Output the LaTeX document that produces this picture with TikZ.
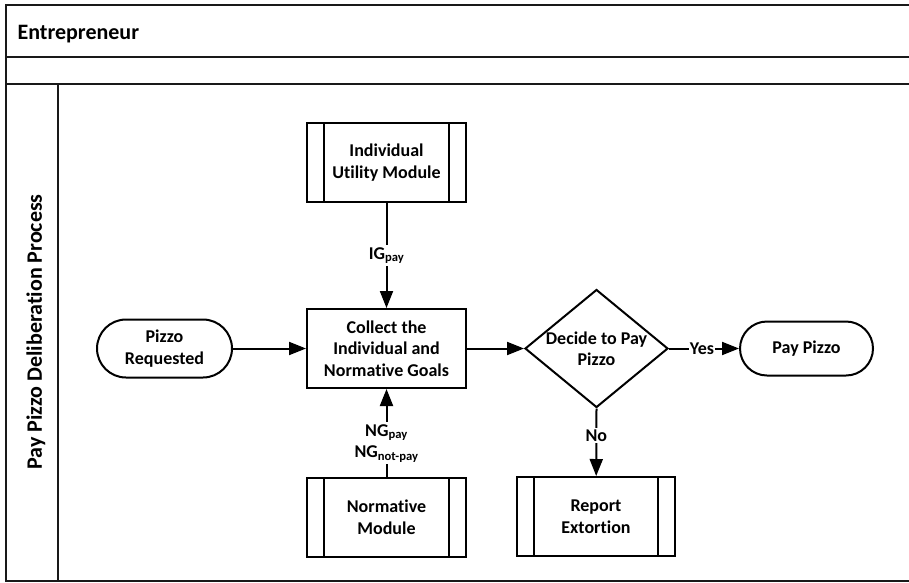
\documentclass[tikz,border=0pt]{standalone}
\usepackage{fontspec}
\setmainfont{Carlito}[Ligatures=NoCommon]
\usetikzlibrary{shapes.geometric,arrows.meta}
\tikzset{
 frame/.style={line width=2pt, draw=black!90},
 nodefont/.style={font=\bfseries\fontsize{18}{21.5}\selectfont, align=center},
 proc/.style={draw, line width=2pt, minimum width=159pt, minimum height=79pt, nodefont, inner sep=0pt},
 subproc/.style={proc, path picture={
   \draw[line width=2pt] ([xshift=17pt]path picture bounding box.north west) -- ([xshift=17pt]path picture bounding box.south west);
   \draw[line width=2pt] ([xshift=-17pt]path picture bounding box.north east) -- ([xshift=-17pt]path picture bounding box.south east);}},
 term/.style={draw, line width=2pt, nodefont, inner sep=0pt},
 arr/.style={line width=2pt, -{Triangle[length=17pt,width=13pt]}},
 lbl/.style={fill=white, inner sep=2pt, nodefont},
 headfont/.style={font=\bfseries\fontsize{22}{26}\selectfont},
}
\begin{document}
\begin{tikzpicture}[x=1pt,y=-1pt]
\useasboundingbox (0,0) rectangle (909,582);
\fill[white] (0,0) rectangle (909,582);
% frame
\draw[frame] (910,5) -- (6,5) -- (6,581) -- (910,581);
\draw[frame] (6,57) -- (910,57);
\draw[frame] (6,84) -- (910,84);
\draw[frame] (58,84) -- (58,581);
\node[headfont, anchor=base west] (ent) at (14,39.5) {Entrepreneur};
\node[headfont, rotate=90] (lane) at (36,332) {Pay Pizzo Deliberation Process};
% nodes
\node[subproc] (ium) at (386.5,162.5) {Individual\\Utility Module};
\node[proc] (col) at (386.5,348.5) {Collect the\\Individual and\\Normative Goals};
\node[subproc] (nm) at (386.5,517) {Normative\\Module};
\node[term, rounded corners=29pt, minimum width=135pt, minimum height=58pt] (pr) at (164.5,348.5) {Pizzo\\Requested};
\node[draw, line width=2pt, diamond, minimum width=143pt, minimum height=118pt, inner sep=0pt] (dec) at (596.5,348.5) {};
\node[nodefont] (dect) at (dec.center) {Decide to Pay\\Pizzo};
\node[term, rounded corners=27pt, minimum width=133pt, minimum height=54pt] (pp) at (806.5,348.5) {Pay Pizzo};
\node[subproc, minimum width=158pt] (re) at (596,516.5) {Report\\Extortion};
% connectors
\draw[arr] (ium) -- node[lbl, pos=0.5] {IG\textsubscript{pay}} (col);
\draw[arr] (nm) -- node[lbl, pos=0.38] {NG\textsubscript{pay}\\NG\textsubscript{not-pay}} (col);
\draw[arr] (pr) -- (col);
\draw[arr] (col) -- (dec.west);
\draw[arr] (dec.east) -- node[lbl, inner sep=1pt, pos=0.47] {Yes} (pp);
\draw[arr] (dec.south) -- node[lbl, pos=0.4] {No} (re);
\end{tikzpicture}
\end{document}
